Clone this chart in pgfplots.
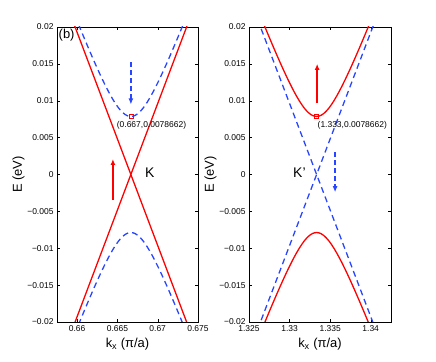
\documentclass[border=0pt]{standalone}
\usepackage{fontspec}
\setmainfont{Liberation Sans}
\usepackage{pgfplots}
\pgfplotsset{compat=1.18}
\usetikzlibrary{arrows.meta}
\definecolor{bandred}{RGB}{255,0,0}
\definecolor{bandblue}{RGB}{40,70,255}

% gapped band near K: k, E(upper), E(lower)
\pgfplotstableread{
k E Eneg
0.66017 0.020366 -0.020366
0.66067 0.019041 -0.019041
0.66117 0.017735 -0.017735
0.66167 0.016452 -0.016452
0.66217 0.015199 -0.015199
0.66267 0.013983 -0.013983
0.66317 0.012814 -0.012814
0.66367 0.011707 -0.011707
0.66417 0.010681 -0.010681
0.66467 0.0097614 -0.0097614
0.66517 0.0089816 -0.0089816
0.66567 0.0083803 -0.0083803
0.66617 0.0079978 -0.0079978
0.66667 0.0078662 -0.0078662
0.66717 0.0079978 -0.0079978
0.66767 0.0083803 -0.0083803
0.66817 0.0089816 -0.0089816
0.66867 0.0097614 -0.0097614
0.66917 0.010681 -0.010681
0.66967 0.011707 -0.011707
0.67017 0.012814 -0.012814
0.67067 0.013983 -0.013983
0.67117 0.015199 -0.015199
0.67167 0.016452 -0.016452
0.67217 0.017735 -0.017735
0.67267 0.019041 -0.019041
0.67317 0.020366 -0.020366
}\gapK

% gapped band near K'
\pgfplotstableread{
k E Eneg
1.32683 0.020366 -0.020366
1.32733 0.019041 -0.019041
1.32783 0.017735 -0.017735
1.32833 0.016452 -0.016452
1.32883 0.015199 -0.015199
1.32933 0.013983 -0.013983
1.32983 0.012814 -0.012814
1.33033 0.011707 -0.011707
1.33083 0.010681 -0.010681
1.33133 0.0097614 -0.0097614
1.33183 0.0089816 -0.0089816
1.33233 0.0083803 -0.0083803
1.33283 0.0079978 -0.0079978
1.33333 0.0078662 -0.0078662
1.33383 0.0079978 -0.0079978
1.33433 0.0083803 -0.0083803
1.33483 0.0089816 -0.0089816
1.33533 0.0097614 -0.0097614
1.33583 0.010681 -0.010681
1.33633 0.011707 -0.011707
1.33683 0.012814 -0.012814
1.33733 0.013983 -0.013983
1.33783 0.015199 -0.015199
1.33833 0.016452 -0.016452
1.33883 0.017735 -0.017735
1.33933 0.019041 -0.019041
1.33983 0.020366 -0.020366
}\gapKp

\pgfplotsset{
  bandaxis/.style={
    scale only axis,
    width=141bp, height=295bp,
    anchor=south west,
    ymin=-0.02, ymax=0.02,
    scaled y ticks=false, scaled x ticks=false,
    ytick={-0.02,-0.015,-0.01,-0.005,0,0.005,0.01,0.015,0.02},
    yticklabels={−0.02,−0.015,−0.01,−0.005,0,0.005,0.01,0.015,0.02},
    tick align=inside,
    major tick length=3bp,
    axis line style={line width=0.5pt},
    tick style={line width=0.4pt,black},
    tick label style={font=\fontsize{8.5}{10}\selectfont},
    label style={font=\fontsize{13}{15}\selectfont},
    xlabel={k\textsubscript{x} (π/a)},
    ylabel={E (eV)},
    ylabel style={xshift=0pt, yshift=-4bp},
    clip mode=individual,
  },
  redband/.style={bandred, line width=1.3pt},
  blueband/.style={bandblue, line width=1.3pt, dash pattern=on 6pt off 4pt},
}

\begin{document}
\begin{tikzpicture}
\path[use as bounding box] (0,0) rectangle (436bp,362bp);

\begin{axis}[bandaxis,
  at={(57bp,40bp)},
  xmin=0.6575, xmax=0.675,
  xtick={0.66,0.665,0.67,0.675},
  xticklabels={0.66,0.665,0.67,0.675},
]
\addplot[redband] coordinates {(0.659401,0.021) (0.673933,-0.021)};
\addplot[redband] coordinates {(0.659401,-0.021) (0.673933,0.021)};
\addplot[blueband, smooth] table[x=k, y=E] {\gapK};
\addplot[blueband, smooth] table[x=k, y=Eneg] {\gapK};
\addplot[bandred, only marks, mark=square, mark size=2pt, mark options={line width=0.5pt}] coordinates {(0.66667,0.0078662)};
\addplot[bandblue, line width=1.3pt, dash pattern=on 5pt off 3pt, -{Latex[length=6pt,width=5pt]}] coordinates {(0.66667,0.0152) (0.66667,0.0095)};
\addplot[bandred, line width=1.4pt, -{Latex[length=6pt,width=5pt]}] coordinates {(0.66444,-0.0034) (0.66444,0.0021)};
\node[anchor=north west, inner sep=0pt, font=\fontsize{8.5}{10}\selectfont] at (axis cs:0.66491,0.0072) {(0.667,0.0078662)};
\node[anchor=west, inner sep=0pt, font=\fontsize{14}{16}\selectfont] at (axis cs:0.6684,0.0003) {K};
\node[anchor=north west, inner sep=1.5pt, font=\fontsize{13}{15}\selectfont] at (rel axis cs:0,1) {(b)};
\end{axis}

\begin{axis}[bandaxis,
  at={(249bp,40bp)},
  width=142bp,
  xmin=1.325, xmax=1.3425,
  xtick={1.325,1.33,1.335,1.34},
  xticklabels={1.325,1.33,1.335,1.34},
]
\addplot[blueband] coordinates {(1.326067,0.021) (1.340599,-0.021)};
\addplot[blueband] coordinates {(1.326067,-0.021) (1.340599,0.021)};
\addplot[redband, smooth] table[x=k, y=E] {\gapKp};
\addplot[redband, smooth] table[x=k, y=Eneg] {\gapKp};
\addplot[bandred, only marks, mark=square, mark size=2pt, mark options={line width=0.5pt}] coordinates {(1.33333,0.0078662)};
\addplot[bandred, line width=1.4pt, -{Latex[length=6pt,width=5pt]}] coordinates {(1.33340,0.0097) (1.33340,0.0150)};
\addplot[bandblue, line width=1.3pt, dash pattern=on 5pt off 3pt, -{Latex[length=6pt,width=5pt]}] coordinates {(1.33561,0.0030) (1.33561,-0.0024)};
\node[anchor=north west, inner sep=0pt, font=\fontsize{8.5}{10}\selectfont] at (axis cs:1.33344,0.0072) {(1.333,0.0078662)};
\node[anchor=east, inner sep=0pt, font=\fontsize{14}{16}\selectfont] at (axis cs:1.3320,0.0003) {K'};
\end{axis}
\end{tikzpicture}
\end{document}
